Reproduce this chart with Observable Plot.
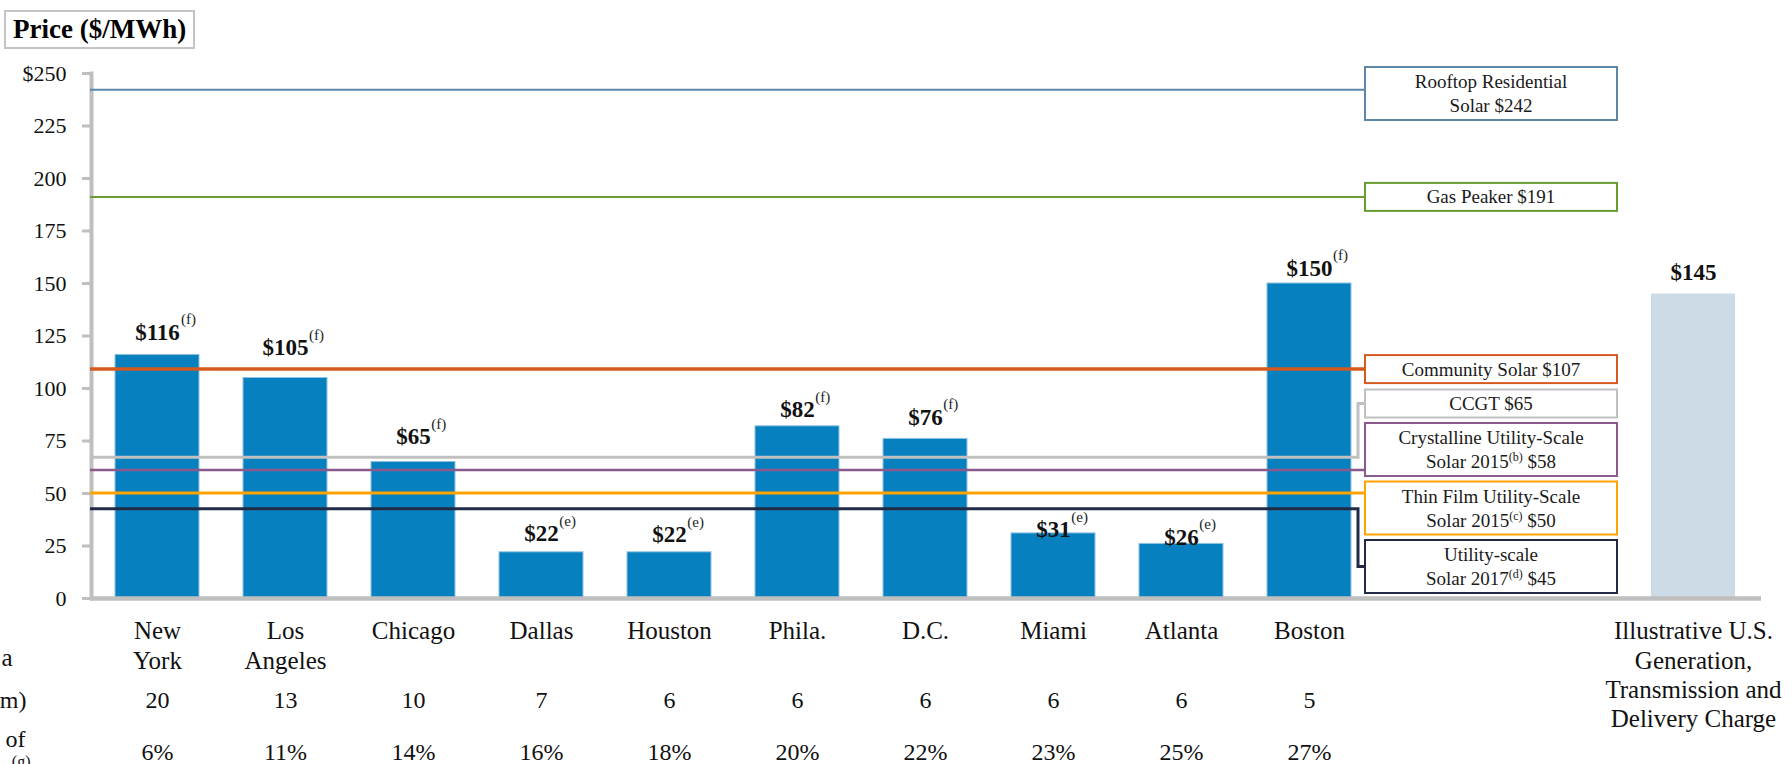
<!DOCTYPE html>
<html>
<head>
<meta charset="utf-8">
<script src="https://cdn.jsdelivr.net/npm/d3@7"></script>
<script src="https://cdn.jsdelivr.net/npm/@observablehq/plot@0.6"></script>
<style>
  html, body { margin: 0; padding: 0; background: #fff; }
  #wrap { position: relative; width: 1792px; height: 764px; overflow: hidden; }
  #title {
    position: absolute; left: 4px; top: 10px; width: 191px; height: 39px;
    box-sizing: border-box; border: 2px solid #c4c4c4; padding-left: 7px;
    font: bold 27px 'Liberation Serif', serif; line-height: 35px; color: #000;
    background: #fff; z-index: 2; white-space: nowrap;
  }
</style>
</head>
<body>
<div id="wrap">
  <div id="title">Price ($/MWh)</div>
  <div id="chart"></div>
</div>
<script>
// ---------- data ----------
const cities = ["New\nYork", "Los\nAngeles", "Chicago", "Dallas", "Houston", "Phila.", "D.C.", "Miami", "Atlanta", "Boston"];
const cityPrices = [116, 105, 65, 22, 22, 82, 76, 31, 26, 150];
const priceNotes = ["(f)", "(f)", "(f)", "(e)", "(e)", "(f)", "(f)", "(e)", "(e)", "(f)"];
const populationMm = [20, 13, 10, 7, 6, 6, 6, 6, 6, 5];
const sharePct = [6, 11, 14, 16, 18, 20, 22, 23, 25, 27];
const benchmarkName = "Illustrative U.S.\nGeneration,\nTransmission and\nDelivery Charge";
const benchmarkPrice = 145;
const refLabels = [
  "Rooftop Residential\nSolar $242",
  "Gas Peaker $191",
  "Community Solar $107",
  "CCGT $65",
  "Crystalline Utility-Scale\nSolar 2015^(b) $58",
  "Thin Film Utility-Scale\nSolar 2015^(c) $50",
  "Utility-scale\nSolar 2017^(d) $45"
];
const refLevels = [242, 191, 109, 67, 61, 50, 42.5];
const yTicks = [0, 25, 50, 75, 100, 125, 150, 175, 200, 225, 250];
const rowLabels = ["a", "m)", "of", "(g)"];

// ---------- styling ----------
const FONT = "'Liberation Serif', 'Times New Roman', serif";
const barBlue = "#0780bf";
const benchBlue = "#ccdbe6";
const axisGray = "#bfbfbf";
const refColors = ["#5d86a8", "#6a9c34", "#d65a1f", "#c0c0c0", "#8a5a8c", "#ffa300", "#222a45"];
const refWidths = [2, 2, 3.5, 3, 2.5, 3, 3];
const labelLift = [15, 23, 18, 11, 10, 9, 14, -4, -1, 8];
const benchLift = 14;
const gapSlots = ["gap-1", "gap-2"];
const xDomain = [...cities, ...gapSlots, benchmarkName];

const cityRows = cities.map((c, i) => ({city: c, price: cityPrices[i], note: priceNotes[i], pop: populationMm[i], share: sharePct[i]}));
const benchRows = [{city: benchmarkName, price: benchmarkPrice}];

const LBL = 23, SUP = 15;
const labelMarks = cityRows.flatMap((r, i) => [
  Plot.text([r], {x: "city", y: "price", text: d => "$" + d.price, fontWeight: "bold", fontSize: LBL,
    fill: "#111", lineAnchor: "middle", dy: -labelLift[i] - 0.32 * LBL}),
  Plot.text([r], {x: "city", y: "price", text: "note", textAnchor: "start", fontSize: SUP, fill: "#222",
    lineAnchor: "middle", dx: ("$" + r.price).length * 0.25 * LBL + 0.5, dy: -labelLift[i] - 15.5 - 0.32 * SUP})
]);

const rowText = (value, size, endX, baseline) =>
  Plot.text([value], {text: d => d, frameAnchor: "bottom-left", textAnchor: "end", lineAnchor: "middle",
    fontSize: size, fill: "#111", dx: endX - 90, dy: baseline - 598 - 0.32 * size});

const chart = Plot.plot({
  width: 1792,
  height: 764,
  marginTop: 73,
  marginBottom: 166,
  marginLeft: 90,
  marginRight: 31,
  style: {fontFamily: FONT, fontSize: "22px", color: "#111", background: "white"},
  x: {type: "band", domain: xDomain, paddingInner: 0.34, paddingOuter: 0.17, axis: null},
  y: {domain: [0, 250], axis: null},
  marks: [
    Plot.barY(cityRows, {x: "city", y: "price", fill: barBlue, stroke: "#8fc3e4", strokeWidth: 1}),
    Plot.barY(benchRows, {x: "city", y: "price", fill: benchBlue}),
    Plot.ruleY([0], {stroke: axisGray, strokeWidth: 4.5}),
    Plot.frame({anchor: "left", stroke: axisGray, strokeWidth: 4, dx: 1}),
    Plot.axisY({ticks: yTicks, tickSize: 8, tickPadding: 16, stroke: axisGray, strokeWidth: 3,
      fill: "#111", fontSize: 22, label: null, tickFormat: d => d === 250 ? "$250" : String(d)}),
    ...labelMarks,
    Plot.text(benchRows, {x: "city", y: "price", text: d => "$" + d.price, fontWeight: "bold", fontSize: LBL,
      fill: "#111", lineAnchor: "middle", dy: -benchLift - 0.32 * LBL}),
    // category rows below the axis
    Plot.text(cityRows, {x: "city", text: "city", frameAnchor: "bottom", lineAnchor: "top", lineHeight: 1.17,
      fontSize: 25, fill: "#111", dy: 20}),
    Plot.text(benchRows, {x: "city", text: "city", frameAnchor: "bottom", lineAnchor: "top", lineHeight: 1.17,
      fontSize: 25, fill: "#111", dy: 20}),
    Plot.text(cityRows, {x: "city", text: d => String(d.pop), frameAnchor: "bottom", lineAnchor: "middle",
      fontSize: 24, fill: "#111", dy: 707 - 598 - 0.32 * 24}),
    Plot.text(cityRows, {x: "city", text: d => d.share + "%", frameAnchor: "bottom", lineAnchor: "middle",
      fontSize: 24, fill: "#111", dy: 759 - 598 - 0.32 * 24}),
    // row labels at the left edge (clipped in the original)
    rowText(rowLabels[0], 25, 12, 665),
    rowText(rowLabels[1], 24, 26, 707),
    rowText(rowLabels[2], 24, 25, 746),
    rowText(rowLabels[3], 16, 30, 766)
  ]
});

document.getElementById("chart").append(chart);

// ---------- reference lines with labelled boxes ----------
const ys = chart.scale("y");
const xs = chart.scale("x");
const yOf = v => ys.apply(v);
const axisLeft = xs.range[0];
const boxLeft = xs.apply(cities[cities.length - 1]) + xs.bandwidth + 14;
const boxRight = xs.apply(benchmarkName) - 34;
const boxCx = (boxLeft + boxRight) / 2;
const BOX_FS = 19, BOX_LH = 24;

const boxes = refLabels.map((label, i) => {
  const n = label.split("\n").length;
  return {i, label, n, h: n === 1 ? 28 : 53, level: refLevels[i]};
});
const topLimit = yOf(250) - 6;
let cursor = yOf(0) - 5;
boxes.slice().sort((a, b) => a.level - b.level).forEach(b => {
  if (b.level < 100) {            // low benchmarks are stacked above the baseline
    b.y2 = cursor; b.y1 = cursor - b.h; cursor = b.y1 - 5.5;
  } else {                        // high benchmarks sit on their own line
    const c = yOf(b.level);
    b.y1 = Math.max(topLimit, c - b.h / 2); b.y2 = b.y1 + b.h;
  }
});

const svg = d3.select(chart);
const layer = svg.append("g").attr("fill", "none");
boxes.forEach(b => {
  const y0 = yOf(b.level);
  const inside = y0 > b.y1 + 3 && y0 < b.y2 - 3;
  const cy = (b.y1 + b.y2) / 2;
  const d = inside
    ? `M${axisLeft},${y0}H${boxLeft}`
    : `M${axisLeft},${y0}H${boxLeft - 7}V${cy}H${boxLeft}`;
  layer.append("path").attr("d", d).attr("stroke", refColors[b.i]).attr("stroke-width", refWidths[b.i]);
});
const boxLayer = svg.append("g");
boxes.forEach(b => {
  boxLayer.append("rect")
    .attr("x", boxLeft).attr("y", b.y1)
    .attr("width", boxRight - boxLeft).attr("height", b.h)
    .attr("fill", "#fff").attr("stroke", refColors[b.i]).attr("stroke-width", 2);
  const cy = (b.y1 + b.y2) / 2;
  const t = boxLayer.append("text").attr("text-anchor", "middle").attr("font-size", BOX_FS).attr("fill", "#1a1a1a");
  b.label.split("\n").forEach((line, k) => {
    const base = cy + (k - (b.n - 1) / 2) * BOX_LH + 6.5;
    const tl = t.append("tspan").attr("x", boxCx).attr("y", base);
    const parts = line.split(/\^(\([^)]*\))/);
    let raised = false;
    parts.forEach((p, j) => {
      if (!p) return;
      const s = tl.append("tspan").text(p);
      if (j % 2 === 1) { s.attr("font-size", 12).attr("dy", -7); raised = true; }
      else if (raised) { s.attr("dy", 7); raised = false; }
    });
  });
});
</script>
</body>
</html>
